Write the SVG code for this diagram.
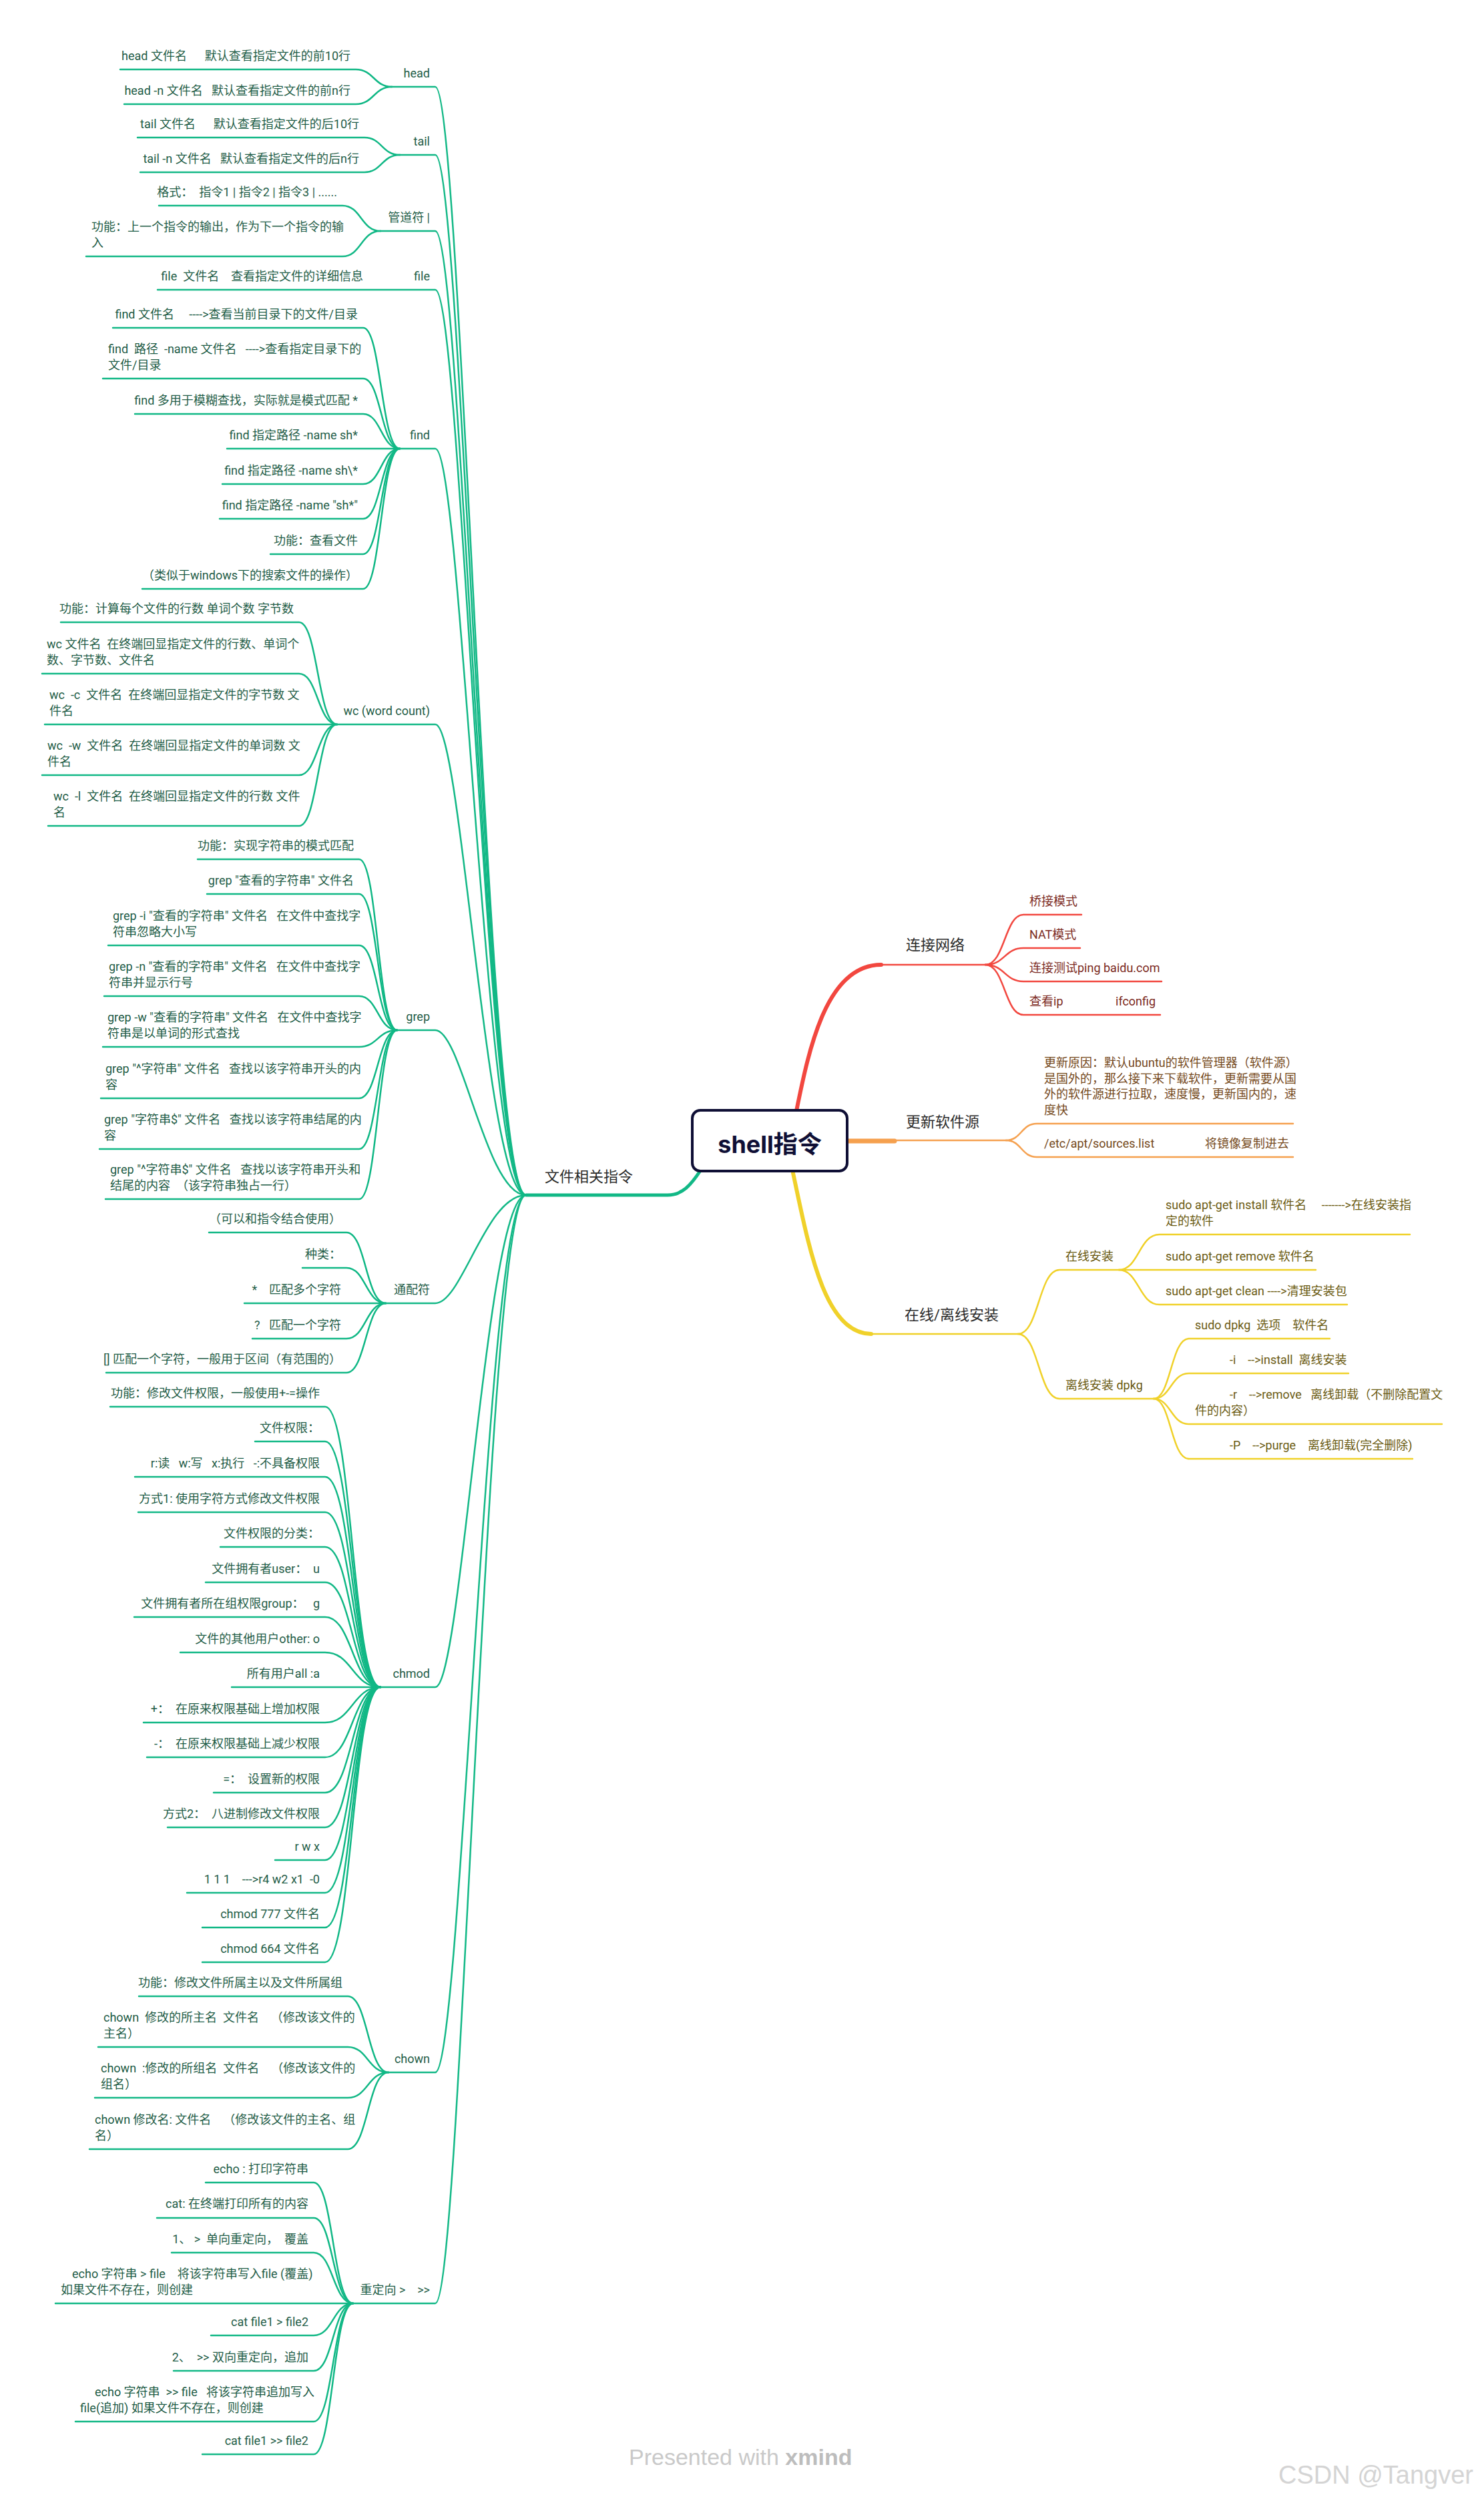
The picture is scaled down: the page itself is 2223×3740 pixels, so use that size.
<svg xmlns="http://www.w3.org/2000/svg" width="2223" height="3740" viewBox="0 0 2223 3740" xml:space="preserve">
<style>
text{white-space:pre;font-family:Roboto,"Noto Sans CJK SC",sans-serif;font-size:18px}
.t{fill:#1f5d47}
.e{text-anchor:end}
.b{font-size:22px;fill:#2b2b2b}
.tr{fill:#7c2a22}
.to{fill:#75491c}
.ty{fill:#6b5b12}
.cg path{fill:none;stroke:#12b886;stroke-width:2.5;stroke-linecap:round}
.cr path{fill:none;stroke:#f2473f;stroke-width:2.5;stroke-linecap:round}
.co path{fill:none;stroke:#f5a04e;stroke-width:2.5;stroke-linecap:round}
.cy path{fill:none;stroke:#f0d12a;stroke-width:2.5;stroke-linecap:round}
</style>
<rect width="2223" height="3740" fill="#ffffff"/>
<g id="connectors">
 <g class="cg">
  <path d="M788,1790 H1000 C1022,1790 1035,1775 1050,1752" style="stroke-width:5"/>
  <path d="M180,104 H533 C560,104 560,130 587,130"/>
  <path d="M186,156 H533 C560,156 560,130 587,130"/>
  <path d="M587,130 H652 C692,130 728,1790 788,1790"/>
  <path d="M206,206 H546 C572,206 572,232 599,232"/>
  <path d="M210,258 H546 C572,258 572,232 599,232"/>
  <path d="M599,232 H652 C692,232 728,1790 788,1790"/>
  <path d="M238,308 H513 C541,308 541,346 570,346"/>
  <path d="M129,384 H513 C541,384 541,346 570,346"/>
  <path d="M570,346 H652 C692,346 728,1790 788,1790"/>
  <path d="M236,434 H652 C692,434 728,1790 788,1790"/>
  <path d="M169,491 H544 C571,491 571,672 599,672"/>
  <path d="M154,567 H544 C571,567 571,672 599,672"/>
  <path d="M202,620 H544 C571,620 571,672 599,672"/>
  <path d="M340,672 H599"/>
  <path d="M333,725 H544 C571,725 571,672 599,672"/>
  <path d="M329,777 H544 C571,777 571,672 599,672"/>
  <path d="M405,830 H544 C571,830 571,672 599,672"/>
  <path d="M213,882 H544 C571,882 571,672 599,672"/>
  <path d="M599,672 H652 C692,672 728,1790 788,1790"/>
  <path d="M91,932 H448 C476,932 476,1085 505,1085"/>
  <path d="M63,1009 H448 C476,1009 476,1085 505,1085"/>
  <path d="M67,1085 H505"/>
  <path d="M63,1161 H448 C476,1161 476,1085 505,1085"/>
  <path d="M72,1237 H448 C476,1237 476,1085 505,1085"/>
  <path d="M505,1085 H652 C692,1085 728,1790 788,1790"/>
  <path d="M296,1287 H538 C566,1287 566,1543 595,1543"/>
  <path d="M310,1339 H538 C566,1339 566,1543 595,1543"/>
  <path d="M162,1416 H538 C566,1416 566,1543 595,1543"/>
  <path d="M156,1492 H538 C566,1492 566,1543 595,1543"/>
  <path d="M154,1568 H538 C566,1568 566,1543 595,1543"/>
  <path d="M151,1645 H538 C566,1645 566,1543 595,1543"/>
  <path d="M149,1721 H538 C566,1721 566,1543 595,1543"/>
  <path d="M158,1796 H538 C566,1796 566,1543 595,1543"/>
  <path d="M595,1543 H652 C692,1543 728,1790 788,1790"/>
  <path d="M313,1846 H519 C548,1846 548,1952 578,1952"/>
  <path d="M453,1899 H519 C548,1899 548,1952 578,1952"/>
  <path d="M366,1952 H578"/>
  <path d="M378,2005 H519 C548,2005 548,1952 578,1952"/>
  <path d="M159,2056 H519 C548,2056 548,1952 578,1952"/>
  <path d="M578,1952 H652 C692,1952 728,1790 788,1790"/>
  <path d="M165,2107 H487 C528,2107 528,2527 570,2527"/>
  <path d="M382,2159 H487 C528,2159 528,2527 570,2527"/>
  <path d="M202,2212 H487 C528,2212 528,2527 570,2527"/>
  <path d="M207,2265 H487 C528,2265 528,2527 570,2527"/>
  <path d="M330,2317 H487 C528,2317 528,2527 570,2527"/>
  <path d="M308,2370 H487 C528,2370 528,2527 570,2527"/>
  <path d="M201,2422 H487 C528,2422 528,2527 570,2527"/>
  <path d="M270,2475 H487 C528,2475 528,2527 570,2527"/>
  <path d="M347,2527 H570"/>
  <path d="M215,2580 H487 C528,2580 528,2527 570,2527"/>
  <path d="M220,2632 H487 C528,2632 528,2527 570,2527"/>
  <path d="M320,2685 H487 C528,2685 528,2527 570,2527"/>
  <path d="M251,2737 H487 C528,2737 528,2527 570,2527"/>
  <path d="M412,2786 H487 C528,2786 528,2527 570,2527"/>
  <path d="M280,2835 H487 C528,2835 528,2527 570,2527"/>
  <path d="M303,2887 H487 C528,2887 528,2527 570,2527"/>
  <path d="M303,2939 H487 C528,2939 528,2527 570,2527"/>
  <path d="M570,2527 H652 C692,2527 728,1790 788,1790"/>
  <path d="M208,2990 H521 C551,2990 551,3104 582,3104"/>
  <path d="M147,3066 H521 C551,3066 551,3104 582,3104"/>
  <path d="M142,3142 H521 C551,3142 551,3104 582,3104"/>
  <path d="M134,3219 H521 C551,3219 551,3104 582,3104"/>
  <path d="M582,3104 H652 C692,3104 728,1790 788,1790"/>
  <path d="M308,3269 H470 C499,3269 499,3450 529,3450"/>
  <path d="M235,3322 H470 C499,3322 499,3450 529,3450"/>
  <path d="M257,3374 H470 C499,3374 499,3450 529,3450"/>
  <path d="M83,3450 H529"/>
  <path d="M316,3498 H470 C499,3498 499,3450 529,3450"/>
  <path d="M260,3551 H470 C499,3551 499,3450 529,3450"/>
  <path d="M113,3627 H470 C499,3627 499,3450 529,3450"/>
  <path d="M303,3676 H470 C499,3676 499,3450 529,3450"/>
  <path d="M529,3450 H652 C692,3450 728,1790 788,1790"/>
 </g>
 <g class="cr">
  <path d="M1193,1664 C1212,1570 1238,1445 1320,1445" style="stroke-width:6"/>
  <path d="M1310,1445 H1476"/>
  <path d="M1476,1445 C1505,1445 1505,1370 1533,1370 H1620"/>
  <path d="M1476,1445 C1505,1445 1505,1420 1533,1420 H1618"/>
  <path d="M1476,1445 C1505,1445 1505,1470 1533,1470 H1740"/>
  <path d="M1476,1445 C1505,1445 1505,1520 1533,1520 H1738"/>
 </g>
 <g class="co">
  <path d="M1268,1709 H1340" style="stroke-width:7"/>
  <path d="M1330,1708 H1507"/>
  <path d="M1507,1708 C1530,1708 1530,1683 1553,1683 H1937"/>
  <path d="M1507,1708 C1530,1708 1530,1733 1553,1733 H1937"/>
 </g>
 <g class="cy">
  <path d="M1188,1757 C1212,1870 1235,1998 1305,1998" style="stroke-width:6"/>
  <path d="M1300,1998 H1525"/>
  <path d="M1525,1998 C1556,1998 1556,1902 1587,1902 H1971"/>
  <path d="M1525,1998 C1556,1998 1556,2095 1587,2095 H1728"/>
  <path d="M1676,1902 C1706,1902 1706,1849 1737,1849 H2112"/>
  <path d="M1676,1902 C1706,1902 1706,1954 1737,1954 H2018"/>
  <path d="M1728,2095 C1754,2095 1754,2005 1781,2005 H1992"/>
  <path d="M1728,2095 C1754,2095 1754,2057 1781,2057 H2020"/>
  <path d="M1728,2095 C1754,2095 1754,2133 1781,2133 H2160"/>
  <path d="M1728,2095 C1754,2095 1754,2185 1781,2185 H2116"/>
 </g>
</g>
<g id="root">
 <rect x="1037" y="1663" width="232" height="91" rx="12" fill="#ffffff" stroke="#0f0f35" stroke-width="4"/>
 <text x="1153" y="1727" text-anchor="middle" style="font-family:Inter,'Noto Sans CJK SC',sans-serif;font-size:36px;font-weight:700;fill:#0f0f35">shell指令</text>
</g>
<g id="n-file-cmds"><text class="b" x="816" y="1770">文件相关指令</text></g>
<g id="n-head"><text class="t e" x="644" y="116">head</text></g>
<g id="n-head-1"><text class="t e" x="525" y="90">head 文件名      默认查看指定文件的前10行</text></g>
<g id="n-head-2"><text class="t e" x="525" y="142">head -n 文件名   默认查看指定文件的前n行</text></g>
<g id="n-tail"><text class="t e" x="644" y="218">tail</text></g>
<g id="n-tail-1"><text class="t e" x="538" y="192">tail 文件名      默认查看指定文件的后10行</text></g>
<g id="n-tail-2"><text class="t e" x="538" y="244">tail -n 文件名   默认查看指定文件的后n行</text></g>
<g id="n-pipe"><text class="t e" x="644" y="332">管道符 |</text></g>
<g id="n-pipe-1"><text class="t e" x="505" y="294">格式：  指令1 | 指令2 | 指令3 | ......</text></g>
<g id="n-pipe-2"><text class="t" x="137" y="346"><tspan x="137" y="346">功能：上一个指令的输出，作为下一个指令的输</tspan><tspan x="137" y="370">入</tspan></text></g>
<g id="n-file"><text class="t e" x="644" y="420">file</text></g>
<g id="n-file-1"><text class="t e" x="544" y="420">file  文件名    查看指定文件的详细信息</text></g>
<g id="n-find"><text class="t e" x="644" y="658">find</text></g>
<g id="n-find-1"><text class="t e" x="536" y="477">find 文件名     ----&gt;查看当前目录下的文件/目录</text></g>
<g id="n-find-2"><text class="t" x="162" y="529"><tspan x="162" y="529">find  路径  -name 文件名   ----&gt;查看指定目录下的</tspan><tspan x="162" y="553">文件/目录</tspan></text></g>
<g id="n-find-3"><text class="t e" x="536" y="606">find 多用于模糊查找，实际就是模式匹配 *</text></g>
<g id="n-find-4"><text class="t e" x="536" y="658">find 指定路径 -name sh*</text></g>
<g id="n-find-5"><text class="t e" x="536" y="711">find 指定路径 -name sh\*</text></g>
<g id="n-find-6"><text class="t e" x="536" y="763">find 指定路径 -name "sh*"</text></g>
<g id="n-find-7"><text class="t e" x="536" y="816">功能：查看文件</text></g>
<g id="n-find-8"><text class="t e" x="536" y="868">（类似于windows下的搜索文件的操作）</text></g>
<g id="n-wc"><text class="t e" x="644" y="1071">wc (word count)</text></g>
<g id="n-wc-1"><text class="t e" x="440" y="918">功能：计算每个文件的行数 单词个数 字节数</text></g>
<g id="n-wc-2"><text class="t" x="70" y="971"><tspan x="70" y="971">wc 文件名  在终端回显指定文件的行数、单词个</tspan><tspan x="70" y="995">数、字节数、文件名</tspan></text></g>
<g id="n-wc-3"><text class="t" x="74" y="1047"><tspan x="74" y="1047">wc  -c  文件名  在终端回显指定文件的字节数 文</tspan><tspan x="74" y="1071">件名</tspan></text></g>
<g id="n-wc-4"><text class="t" x="71" y="1123"><tspan x="71" y="1123">wc  -w  文件名  在终端回显指定文件的单词数 文</tspan><tspan x="71" y="1147">件名</tspan></text></g>
<g id="n-wc-5"><text class="t" x="80" y="1199"><tspan x="80" y="1199">wc  -l  文件名  在终端回显指定文件的行数 文件</tspan><tspan x="80" y="1223">名</tspan></text></g>
<g id="n-grep"><text class="t e" x="644" y="1529">grep</text></g>
<g id="n-grep-1"><text class="t e" x="530" y="1273">功能：实现字符串的模式匹配</text></g>
<g id="n-grep-2"><text class="t e" x="530" y="1325">grep "查看的字符串" 文件名</text></g>
<g id="n-grep-3"><text class="t" x="169" y="1378"><tspan x="169" y="1378">grep -i "查看的字符串" 文件名   在文件中查找字</tspan><tspan x="169" y="1402">符串忽略大小写</tspan></text></g>
<g id="n-grep-4"><text class="t" x="163" y="1454"><tspan x="163" y="1454">grep -n "查看的字符串" 文件名   在文件中查找字</tspan><tspan x="163" y="1478">符串并显示行号</tspan></text></g>
<g id="n-grep-5"><text class="t" x="161" y="1530"><tspan x="161" y="1530">grep -w "查看的字符串" 文件名   在文件中查找字</tspan><tspan x="161" y="1554">符串是以单词的形式查找</tspan></text></g>
<g id="n-grep-6"><text class="t" x="158" y="1607"><tspan x="158" y="1607">grep "^字符串" 文件名   查找以该字符串开头的内</tspan><tspan x="158" y="1631">容</tspan></text></g>
<g id="n-grep-7"><text class="t" x="156" y="1683"><tspan x="156" y="1683">grep "字符串$" 文件名   查找以该字符串结尾的内</tspan><tspan x="156" y="1707">容</tspan></text></g>
<g id="n-grep-8"><text class="t" x="165" y="1758"><tspan x="165" y="1758">grep "^字符串$" 文件名   查找以该字符串开头和</tspan><tspan x="165" y="1782">结尾的内容  （该字符串独占一行）</tspan></text></g>
<g id="n-wild"><text class="t e" x="644" y="1938">通配符</text></g>
<g id="n-wild-1"><text class="t e" x="511" y="1832">（可以和指令结合使用）</text></g>
<g id="n-wild-2"><text class="t e" x="511" y="1885">种类：</text></g>
<g id="n-wild-3"><text class="t e" x="511" y="1938">*    匹配多个字符</text></g>
<g id="n-wild-4"><text class="t e" x="511" y="1991">?   匹配一个字符</text></g>
<g id="n-wild-5"><text class="t e" x="511" y="2042">[] 匹配一个字符，一般用于区间（有范围的）</text></g>
<g id="n-chmod"><text class="t e" x="644" y="2513">chmod</text></g>
<g id="n-chmod-1"><text class="t e" x="479" y="2093">功能：修改文件权限，一般使用+-=操作</text></g>
<g id="n-chmod-2"><text class="t e" x="479" y="2145">文件权限：</text></g>
<g id="n-chmod-3"><text class="t e" x="479" y="2198">r:读   w:写   x:执行   -:不具备权限</text></g>
<g id="n-chmod-4"><text class="t e" x="479" y="2251">方式1: 使用字符方式修改文件权限</text></g>
<g id="n-chmod-5"><text class="t e" x="479" y="2303">文件权限的分类：</text></g>
<g id="n-chmod-6"><text class="t e" x="479" y="2356">文件拥有者user：  u</text></g>
<g id="n-chmod-7"><text class="t e" x="479" y="2408">文件拥有者所在组权限group：   g</text></g>
<g id="n-chmod-8"><text class="t e" x="479" y="2461">文件的其他用户other: o</text></g>
<g id="n-chmod-9"><text class="t e" x="479" y="2513">所有用户all :a</text></g>
<g id="n-chmod-10"><text class="t e" x="479" y="2566">+：  在原来权限基础上增加权限</text></g>
<g id="n-chmod-11"><text class="t e" x="479" y="2618">-：  在原来权限基础上减少权限</text></g>
<g id="n-chmod-12"><text class="t e" x="479" y="2671">=：  设置新的权限</text></g>
<g id="n-chmod-13"><text class="t e" x="479" y="2723">方式2：  八进制修改文件权限</text></g>
<g id="n-chmod-14"><text class="t e" x="479" y="2772">r w x</text></g>
<g id="n-chmod-15"><text class="t e" x="479" y="2821">1 1 1    ---&gt;r4 w2 x1  -0</text></g>
<g id="n-chmod-16"><text class="t e" x="479" y="2873">chmod 777 文件名</text></g>
<g id="n-chmod-17"><text class="t e" x="479" y="2925">chmod 664 文件名</text></g>
<g id="n-chown"><text class="t e" x="644" y="3090">chown</text></g>
<g id="n-chown-1"><text class="t e" x="513" y="2976">功能：修改文件所属主以及文件所属组</text></g>
<g id="n-chown-2"><text class="t" x="155" y="3028"><tspan x="155" y="3028">chown  修改的所主名  文件名    （修改该文件的</tspan><tspan x="155" y="3052">主名）</tspan></text></g>
<g id="n-chown-3"><text class="t" x="151" y="3104"><tspan x="151" y="3104">chown  :修改的所组名  文件名    （修改该文件的</tspan><tspan x="151" y="3128">组名）</tspan></text></g>
<g id="n-chown-4"><text class="t" x="142" y="3181"><tspan x="142" y="3181">chown 修改名: 文件名    （修改该文件的主名、组</tspan><tspan x="142" y="3205">名）</tspan></text></g>
<g id="n-redir"><text class="t e" x="644" y="3436">重定向 &gt;    &gt;&gt;</text></g>
<g id="n-redir-1"><text class="t e" x="462" y="3255">echo : 打印字符串</text></g>
<g id="n-redir-2"><text class="t e" x="462" y="3307">cat: 在终端打印所有的内容</text></g>
<g id="n-redir-3"><text class="t e" x="462" y="3360">1、 &gt;  单向重定向，  覆盖</text></g>
<g id="n-redir-4"><text class="t" x="108" y="3412"><tspan x="108" y="3412">echo 字符串 &gt; file    将该字符串写入file (覆盖)</tspan><tspan x="91" y="3436">如果文件不存在，则创建</tspan></text></g>
<g id="n-redir-5"><text class="t e" x="462" y="3484">cat file1 &gt; file2</text></g>
<g id="n-redir-6"><text class="t e" x="462" y="3537">2、  &gt;&gt; 双向重定向，追加</text></g>
<g id="n-redir-7"><text class="t" x="142" y="3589"><tspan x="142" y="3589">echo 字符串  &gt;&gt; file   将该字符串追加写入</tspan><tspan x="120" y="3613">file(追加) 如果文件不存在，则创建</tspan></text></g>
<g id="n-redir-8"><text class="t e" x="462" y="3662">cat file1 &gt;&gt; file2</text></g>
<g id="n-net"><text class="b" x="1357" y="1423">连接网络</text></g>
<g id="n-net-1"><text class="tr" x="1542" y="1356">桥接模式</text></g>
<g id="n-net-2"><text class="tr" x="1542" y="1406">NAT模式</text></g>
<g id="n-net-3"><text class="tr" x="1542" y="1456">连接测试ping baidu.com</text></g>
<g id="n-net-4"><text class="tr" x="1542" y="1506">查看ip<tspan x="1671">ifconfig</tspan></text></g>
<g id="n-src"><text class="b" x="1357" y="1688">更新软件源</text></g>
<g id="n-src-1"><text class="to" x="1564" y="1598"><tspan x="1564" y="1598">更新原因：默认ubuntu的软件管理器（软件源）</tspan><tspan x="1564" y="1622">是国外的，那么接下来下载软件，更新需要从国</tspan><tspan x="1564" y="1645">外的软件源进行拉取，速度慢，更新国内的，速</tspan><tspan x="1564" y="1669">度快</tspan></text></g>
<g id="n-src-2"><text class="to" x="1564" y="1719">/etc/apt/sources.list<tspan x="1805">将镜像复制进去</tspan></text></g>
<g id="n-inst"><text class="b" x="1355" y="1977">在线/离线安装</text></g>
<g id="n-online"><text class="ty" x="1596" y="1888">在线安装</text></g>
<g id="n-online-1"><text class="ty" x="1746" y="1811"><tspan x="1746" y="1811">sudo apt-get install 软件名     -------&gt;在线安装指</tspan><tspan x="1746" y="1835">定的软件</tspan></text></g>
<g id="n-online-2"><text class="ty" x="1746" y="1888">sudo apt-get remove 软件名</text></g>
<g id="n-online-3"><text class="ty" x="1746" y="1940">sudo apt-get clean ----&gt;清理安装包</text></g>
<g id="n-offline"><text class="ty" x="1596" y="2081">离线安装 dpkg</text></g>
<g id="n-offline-1"><text class="ty" x="1790" y="1991">sudo dpkg  选项    软件名</text></g>
<g id="n-offline-2"><text class="ty" x="1842" y="2043">-i    --&gt;install  离线安装</text></g>
<g id="n-offline-3"><text class="ty" x="1842" y="2095"><tspan x="1842" y="2095">-r    --&gt;remove   离线卸载（不删除配置文</tspan><tspan x="1790" y="2119">件的内容）</tspan></text></g>
<g id="n-offline-4"><text class="ty" x="1842" y="2171">-P    --&gt;purge    离线卸载(完全删除)</text></g>
<g id="footer">
 <text x="942" y="3692" style="font-family:'Liberation Sans',sans-serif;font-size:34px;fill:#c9c9c9">Presented with <tspan style="font-weight:700;fill:#bdbdbd">xmind</tspan></text>
 <text x="1915" y="3720" style="font-family:'Liberation Sans',sans-serif;font-size:38px;fill:#d4d4d4">CSDN @Tangver</text>
</g>
</svg>
